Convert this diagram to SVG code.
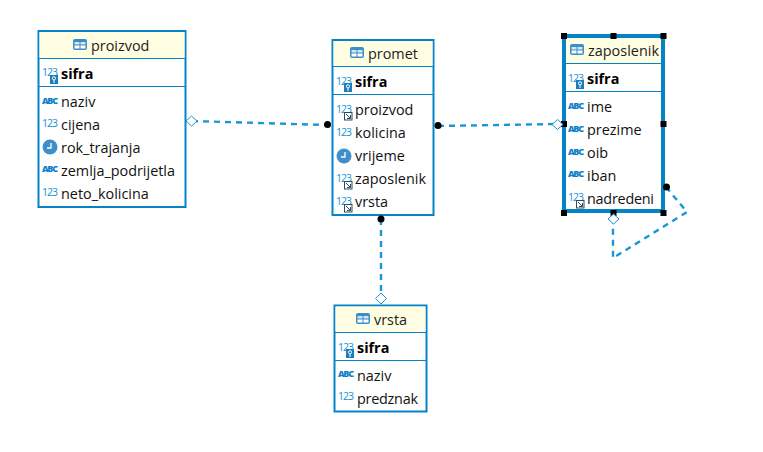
<svg xmlns="http://www.w3.org/2000/svg" width="763" height="452" viewBox="0 0 763 452">
<style>
text{font-family:"Open Sans","Noto Sans","Liberation Sans",sans-serif}
.box{fill:#fff;stroke:#0483c6;stroke-width:2}
.hd{fill:#fffee2}
.ln{stroke:#0483c6;stroke-width:1;fill:none}
.t{font-size:14.4px;fill:#111}
.title{font-size:14.4px;fill:#222}
.pk{font-size:14.4px;font-weight:700;fill:#000}
.n{font-size:10.5px;fill:#1491d6}
.a{font-size:9px;font-weight:800;fill:#1080c8}
.conn{fill:none;stroke:#1b95d3;stroke-width:2.4;stroke-dasharray:6 5}
.dia{fill:#fff;stroke:#1b95d3;stroke-width:1}
.dot{fill:#000}
.hnd{fill:#000}
</style>
<defs>
<g id="tbl"><rect x="0" y="0" width="14" height="11" rx="2" fill="#3b8fc9"/><rect x="1.500" y="3" width="5" height="2.500" fill="#cfe6f5"/><rect x="7.500" y="3" width="5" height="2.500" fill="#cfe6f5"/><rect x="1.500" y="6.500" width="5" height="3" fill="#fff"/><rect x="7.500" y="6.500" width="5" height="3" fill="#fff"/></g>
<g id="clk"><circle cx="7" cy="7" r="7.500" fill="#3f8fcb"/><path d="M8 3V8H4" fill="none" stroke="#fff" stroke-width="1.300"/></g>
<g id="key"><rect x="0" y="0" width="8" height="9" fill="#1c7dbd"/><circle cx="4" cy="3.300" r="1.600" fill="none" stroke="#fff"/><path d="M4 5V8" stroke="#fff"/></g>
<g id="fk"><rect x=".5" y=".5" width="7.500" height="7.500" fill="#fff" stroke="#2f4a5e"/><path d="M2 2L6.500 6.500M3 6.500H6.500V3" fill="none" stroke="#2f4a5e"/></g>
</defs>
<g id="connectors">
<path class="conn" d="M192 121L327 125"/>
<path class="conn" d="M438 126L557 124"/>
<path class="conn" d="M381 219V298"/>
<path class="conn" d="M666 187L687 212L613 258V218"/>
</g>
<g id="proizvod">
<rect class="box" x="38.500" y="31" width="147" height="176"/>
<rect class="hd" x="39.500" y="32" width="145" height="26"/>
<path class="ln" d="M39 58.500H185M39 86.500H185"/>
<use href="#tbl" x="73" y="39"/>
<text class="title" x="91" y="51">proizvod</text>
<text class="n" x="42" y="76" textLength="16">123</text><use href="#key" x="50" y="75"/>
<text class="pk" x="61" y="79">sifra</text>
<text class="a" x="42" y="104" textLength="16">ABC</text><text class="t" x="61" y="107">naziv</text>
<text class="n" x="42" y="127" textLength="16">123</text><text class="t" x="61" y="130">cijena</text>
<use href="#clk" x="43" y="140"/><text class="t" x="61" y="153">rok_trajanja</text>
<text class="a" x="42" y="172" textLength="16">ABC</text><text class="t" x="61" y="176">zemlja_podrijetla</text>
<text class="n" x="42" y="196" textLength="16">123</text><text class="t" x="61" y="199">neto_kolicina</text>
</g>
<g id="promet">
<rect class="box" x="332.500" y="40" width="101" height="175"/>
<rect class="hd" x="333.500" y="41" width="99" height="25"/>
<path class="ln" d="M333 66.500H434M333 94.500H434"/>
<use href="#tbl" x="350" y="47"/>
<text class="title" x="368" y="59">promet</text>
<text class="n" x="336" y="85" textLength="16">123</text><use href="#key" x="344" y="83"/>
<text class="pk" x="355" y="87">sifra</text>
<text class="n" x="336" y="113" textLength="16">123</text><use href="#fk" x="344" y="112"/><text class="t" x="355" y="115">proizvod</text>
<text class="n" x="336" y="136" textLength="16">123</text><text class="t" x="355" y="138">kolicina</text>
<use href="#clk" x="337" y="149"/><text class="t" x="355" y="161">vrijeme</text>
<text class="n" x="336" y="182" textLength="16">123</text><use href="#fk" x="344" y="181"/><text class="t" x="355" y="184" textLength="71">zaposlenik</text>
<text class="n" x="336" y="205" textLength="16">123</text><use href="#fk" x="344" y="204"/><text class="t" x="355" y="207">vrsta</text>
</g>
<g id="zaposlenik">
<rect x="563.500" y="35.500" width="100" height="176" fill="none" stroke="#000" stroke-width="1"/>
<rect x="564" y="36" width="99" height="175" fill="#fff" stroke="#0483c6" stroke-width="4"/>
<rect class="hd" x="566" y="38" width="95" height="25"/>
<path class="ln" d="M565 63.500H662M565 91.500H662"/>
<use href="#tbl" x="570" y="44"/>
<text class="title" x="588" y="56" textLength="71">zaposlenik</text>
<text class="n" x="568" y="82" textLength="16">123</text><use href="#key" x="576" y="80"/>
<text class="pk" x="587" y="84">sifra</text>
<text class="a" x="568" y="109" textLength="16">ABC</text><text class="t" x="587" y="112">ime</text>
<text class="a" x="568" y="132" textLength="16">ABC</text><text class="t" x="587" y="135">prezime</text>
<text class="a" x="568" y="155" textLength="16">ABC</text><text class="t" x="587" y="158">oib</text>
<text class="a" x="568" y="177" textLength="16">ABC</text><text class="t" x="587" y="181">iban</text>
<text class="n" x="568" y="201" textLength="16">123</text><use href="#fk" x="576" y="200"/><text class="t" x="587" y="204" textLength="67">nadredeni</text>
<g class="hnd"><rect x="561" y="33" width="6" height="6"/><rect x="610.500" y="33" width="6" height="6"/><rect x="660.500" y="33" width="6" height="6"/><rect x="561" y="121" width="6" height="6"/><rect x="660.500" y="121" width="6" height="6"/><rect x="561" y="210" width="6" height="6"/><rect x="610.500" y="210" width="6" height="6"/><rect x="660.500" y="210" width="6" height="6"/></g>
</g>
<g id="vrsta">
<rect class="box" x="334.500" y="305.500" width="92" height="106"/>
<rect class="hd" x="335.500" y="306.500" width="90" height="25"/>
<path class="ln" d="M335 332.500H427M335 360.500H427"/>
<use href="#tbl" x="356" y="313"/>
<text class="title" x="374" y="325">vrsta</text>
<text class="n" x="338" y="351" textLength="16">123</text><use href="#key" x="346" y="349"/>
<text class="pk" x="357" y="353">sifra</text>
<text class="a" x="338" y="377" textLength="16">ABC</text><text class="t" x="357" y="381">naziv</text>
<text class="n" x="338" y="400" textLength="16">123</text><text class="t" x="357" y="404" textLength="61">predznak</text>
</g>
<g id="ends">
<path class="dia" d="M186 121L191.500 116L197 121L191.500 126Z"/>
<path class="dia" d="M552 124.500L557.500 119.500L563 124.500L557.500 129.500Z"/>
<path class="dia" d="M375.500 298.500L381 293L386.500 298.500L381 304Z"/>
<path class="dia" d="M608 219L613.500 214L619 219L613.500 224Z"/>
<circle class="dot" cx="327.500" cy="124.500" r="3.500"/>
<circle class="dot" cx="438" cy="125.500" r="3.500"/>
<circle class="dot" cx="381" cy="219" r="3.500"/>
<circle class="dot" cx="666.500" cy="187" r="3.500"/>
</g>
</svg>
